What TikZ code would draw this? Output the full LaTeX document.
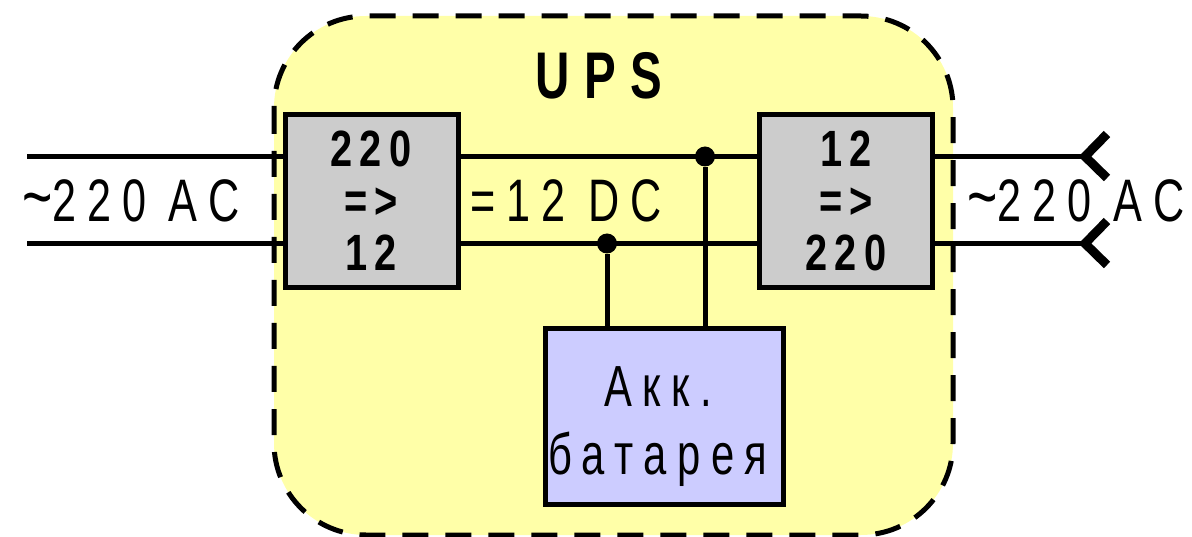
\documentclass[tikz,border=0pt]{standalone}
\usepackage{fontspec}
\setmainfont{Liberation Sans}
\newfontfamily\thinf[FakeStretch=0.72,LetterSpace=18]{Liberation Sans}
\newfontfamily\boldf[FakeStretch=0.78,LetterSpace=14]{Liberation Sans Bold}
\newfontfamily\upsf[FakeStretch=0.72,LetterSpace=22]{Liberation Sans Bold}
\definecolor{upsfill}{HTML}{FFFFA8}
\definecolor{convfill}{HTML}{CCCCCC}
\definecolor{battfill}{HTML}{CCCCFF}
\tikzset{
 px/.style={x=1pt,y=-1pt},
 wire/.style={line width=5pt,black},
 conv/.style={draw=black,line width=5pt,fill=convfill,inner sep=0pt},
 batt/.style={draw=black,line width=5pt,fill=battfill,inner sep=0pt},
 dot/.style={circle,fill=black,inner sep=0pt,minimum size=20pt},
 thinl/.style={inner sep=0pt,font=\thinf\fontsize{60}{60}\selectfont,align=center},
 convl/.style={inner sep=0pt,font=\boldf\fontsize{51}{52}\selectfont,align=center},
}
\begin{document}
\begin{tikzpicture}[px]
\useasboundingbox (0,0) rectangle (1192,537);
\fill[white] (0,0) rectangle (1192,537);
\draw[line width=5pt,dash pattern=on 26pt off 17pt,fill=upsfill,rounded corners=92pt] (274,16) rectangle (953,535);
\node[conv,minimum width=173pt,minimum height=173pt] (a) at (371.5,201) {};
\node[conv,minimum width=173pt,minimum height=173pt] (b) at (845.5,201) {};
\node[batt,minimum width=238pt,minimum height=175pt] (c) at (664,416.5) {};
\coordinate (l1) at (27,156.5); \coordinate (l2) at (27,243.5);
\coordinate (r1) at (1085,156.5); \coordinate (r2) at (1085,243.5);
\draw[wire] (l1) -- (a.west |- l1); \draw[wire] (l2) -- (a.west |- l2);
\draw[wire] (a.east |- l1) -- (b.west |- l1); \draw[wire] (a.east |- l2) -- (b.west |- l2);
\draw[wire] (b.east |- r1) -- (r1); \draw[wire] (b.east |- r2) -- (r2);
\draw[line width=9pt] (1107,134) -- (r1) -- (1107,178);
\draw[line width=9pt] (1107,221) -- (r2) -- (1107,265);
\node[dot] (d1) at (705,156.5) {}; \node[dot] (d2) at (607,243.5) {};
\draw[wire] (d1) -- (d1 |- c.north); \draw[wire] (d2) -- (d2 |- c.north);
\node[inner sep=0pt,font=\upsf\fontsize{66}{66}\selectfont] (t) at (599,76) {UPS};
\node[convl] (t1) at (371,201) {220\\=>\\12};
\node[convl] (t2) at (846,201) {12\\=>\\220};
\node[thinl] (t3) at (131,201) {{\fontsize{72}{60}\selectfont\textasciitilde}220 AC};
\node[thinl] (t4) at (1076,201) {{\fontsize{72}{60}\selectfont\textasciitilde}220 AC};
\node[thinl] (t5) at (566,201) {=12 DC};
\node[thinl,font=\thinf\fontsize{58}{68}\selectfont] (t6) at (658,427) {Акк.\\батарея};
\end{tikzpicture}
\end{document}
